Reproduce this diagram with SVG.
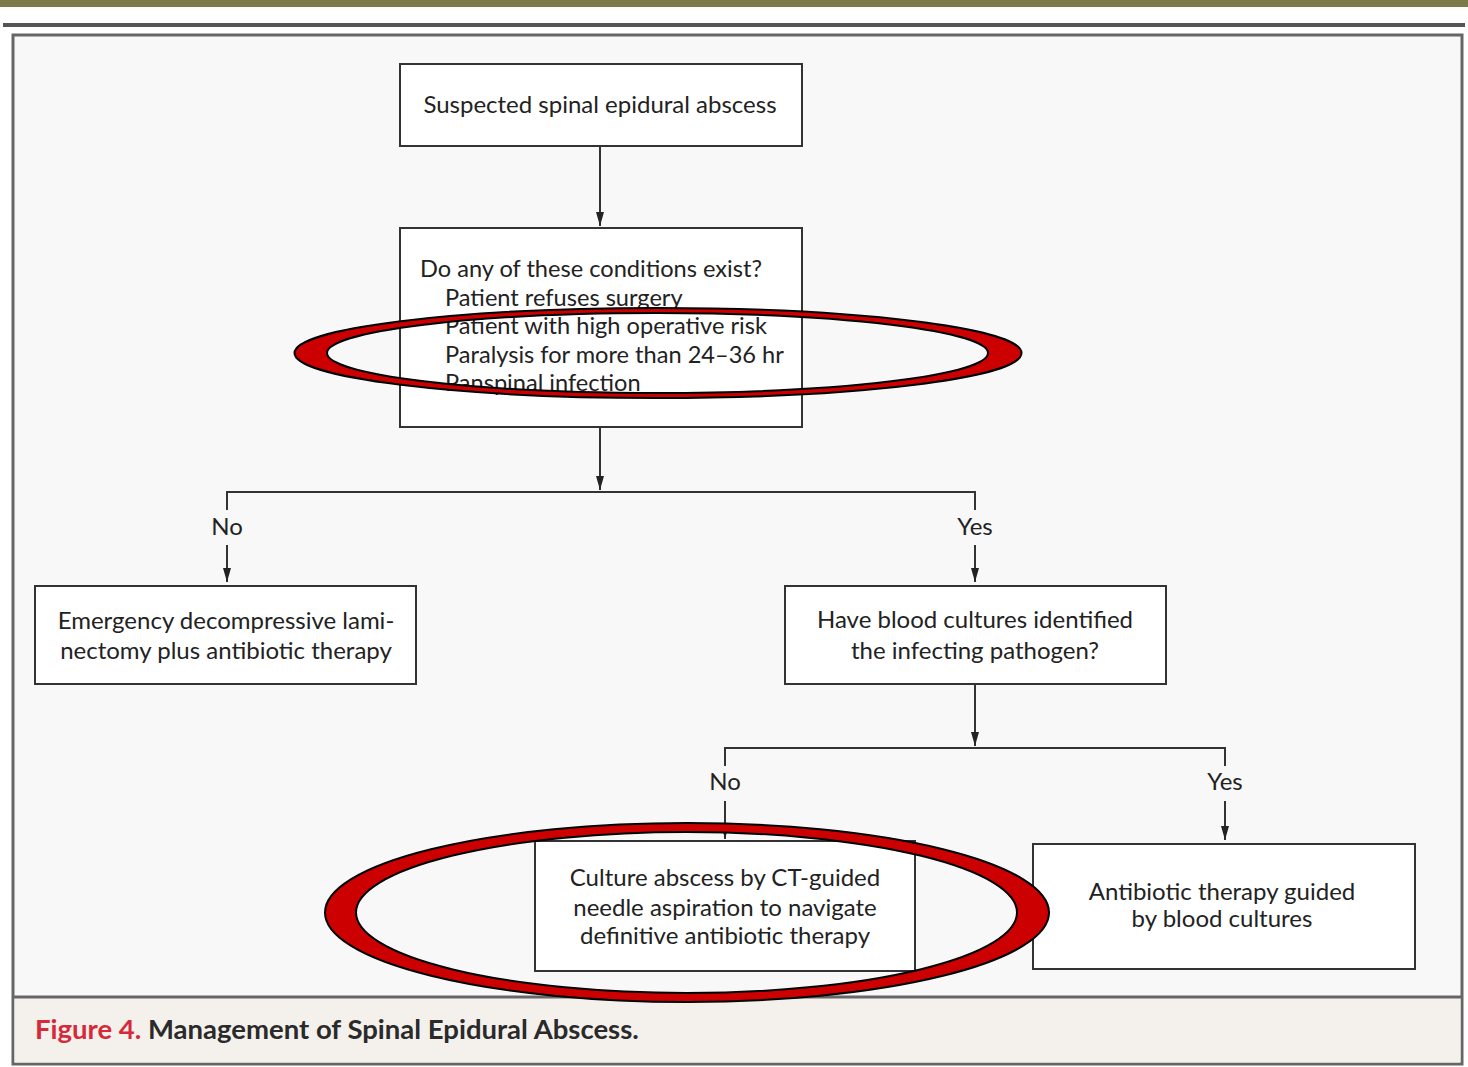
<svg xmlns="http://www.w3.org/2000/svg" width="1468" height="1067" viewBox="0 0 1468 1067">
<style>
.box{fill:#fff;stroke:#333;stroke-width:2}
.t{font-family:Lato,"Open Sans",sans-serif;font-size:24px;fill:#222}
.s{font-size:23.6px}
.c{text-anchor:middle}
.ln{fill:none;stroke:#333;stroke-width:2}
.ring{fill:#CC0000;stroke:#000;stroke-width:2;fill-rule:evenodd}
</style>
<defs>
<marker id="ah" viewBox="0 0 14 8" refX="14" refY="4" markerWidth="14" markerHeight="8" markerUnits="userSpaceOnUse" orient="auto">
<path d="M0,0 L14,4 L0,8 Z" fill="#222"/>
</marker>
</defs>
<rect x="0" y="0" width="1468" height="1067" fill="#fff"/>
<rect x="0" y="0" width="1468" height="7" fill="#7B7A48"/>
<rect x="3" y="23" width="1462" height="4" fill="#555"/>
<rect x="13" y="35" width="1449" height="1029" fill="#F8F8F8" stroke="#666" stroke-width="3"/>
<rect x="14.5" y="997" width="1446" height="65.5" fill="#F4F1EC"/>
<line x1="13" y1="997" x2="1462" y2="997" stroke="#666" stroke-width="3"/>

<g id="connectors">
<line class="ln" x1="600" y1="146" x2="600" y2="226" marker-end="url(#ah)"/>
<line class="ln" x1="600" y1="427" x2="600" y2="490" marker-end="url(#ah)"/>
<polyline class="ln" points="227,510 227,492 975,492 975,510"/>
<line class="ln" x1="227" y1="545" x2="227" y2="582" marker-end="url(#ah)"/>
<line class="ln" x1="975" y1="545" x2="975" y2="582" marker-end="url(#ah)"/>
<line class="ln" x1="975" y1="684" x2="975" y2="746" marker-end="url(#ah)"/>
<polyline class="ln" points="725,766 725,748 1225,748 1225,766"/>
<line class="ln" x1="725" y1="801" x2="725" y2="839" marker-end="url(#ah)"/>
<line class="ln" x1="1225" y1="801" x2="1225" y2="840" marker-end="url(#ah)"/>
<text class="t c" x="227" y="535">No</text>
<text class="t c" x="975" y="535">Yes</text>
<text class="t c" x="725" y="790">No</text>
<text class="t c" x="1225" y="790">Yes</text>
</g>

<g id="n1">
<rect class="box" x="400" y="64" width="402" height="82"/>
<text class="t c" x="600" y="113">Suspected spinal epidural abscess</text>
</g>
<g id="n2">
<rect class="box" x="400" y="228" width="402" height="199"/>
<text class="t s" x="420" y="277">Do any of these conditions exist?</text>
<text class="t s" x="445" y="306">Patient refuses surgery</text>
<text class="t s" x="445" y="334">Patient with high operative risk</text>
<text class="t s" x="445" y="363">Paralysis for more than 24–36 hr</text>
<text class="t s" x="445" y="391">Panspinal infection</text>
</g>
<g id="n3">
<rect class="box" x="35" y="586" width="381" height="98"/>
<text class="t c" x="226" y="629">Emergency decompressive lami-</text>
<text class="t c" x="226" y="659">nectomy plus antibiotic therapy</text>
</g>
<g id="n4">
<rect class="box" x="785" y="586" width="381" height="98"/>
<text class="t c" x="975" y="628">Have blood cultures identified</text>
<text class="t c" x="975" y="659">the infecting pathogen?</text>
</g>
<g id="n5">
<rect class="box" x="535" y="841" width="380" height="130"/>
<text class="t c" x="725" y="886">Culture abscess by CT-guided</text>
<text class="t c" x="725" y="916">needle aspiration to navigate</text>
<text class="t c" x="725" y="944">definitive antibiotic therapy</text>
</g>
<g id="n6">
<rect class="box" x="1033" y="844" width="382" height="125"/>
<text class="t c" x="1222" y="900">Antibiotic therapy guided</text>
<text class="t c" x="1222" y="927">by blood cultures</text>
</g>

<g id="caption">
<text x="35" y="1039" style="font-family:Lato,'Open Sans',sans-serif;font-size:27.5px;font-weight:bold"><tspan fill="#D42A3A">Figure 4.</tspan><tspan fill="#2a2a2a"> Management of Spinal Epidural Abscess.</tspan></text>
</g>

<g id="highlights">
<path class="ring" d="M294.5,353 a363.5,45 0 1,0 727,0 a363.5,45 0 1,0 -727,0 Z M327,353 a330.5,40 0 1,0 661,0 a330.5,40 0 1,0 -661,0 Z"/>
<path class="ring" d="M325,912.5 a362,89.5 0 1,0 724,0 a362,89.5 0 1,0 -724,0 Z M356,912.5 a330.5,80.5 0 1,0 661,0 a330.5,80.5 0 1,0 -661,0 Z"/>
</g>
</svg>
